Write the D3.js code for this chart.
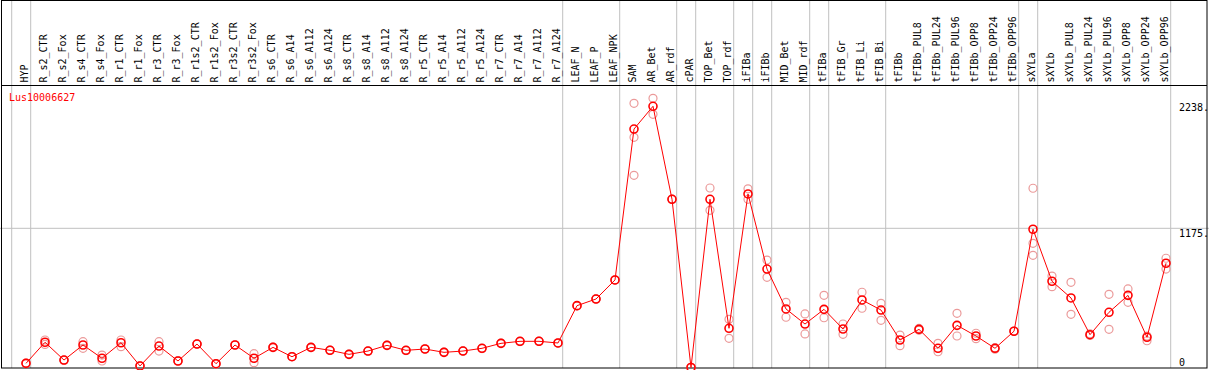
<!DOCTYPE html>
<html>
<head>
<meta charset="utf-8">
<script src="https://cdn.jsdelivr.net/npm/d3@7"></script>
<style>
  body { margin: 0; background: #fff; }
  svg { display: block; }
  text { font-family: "DejaVu Sans Mono", monospace; font-size: 10px; }
</style>
</head>
<body>
<svg id="chart"></svg>
<script>
// nomi dei campioni (colonne)
const samples = ["HYP", "R_s2_CTR", "R_s2_Fox", "R_s4_CTR", "R_s4_Fox", "R_r1_CTR", "R_r1_Fox",
  "R_r3_CTR", "R_r3_Fox", "R_r1s2_CTR", "R_r1s2_Fox", "R_r3s2_CTR", "R_r3s2_Fox",
  "R_s6_CTR", "R_s6_A14", "R_s6_A112", "R_s6_A124", "R_s8_CTR", "R_s8_A14", "R_s8_A112", "R_s8_A124",
  "R_r5_CTR", "R_r5_A14", "R_r5_A112", "R_r5_A124", "R_r7_CTR", "R_r7_A14", "R_r7_A112", "R_r7_A124",
  "LEAF_N", "LEAF_P", "LEAF_NPK", "SAM", "AR_Bet", "AR_rdf", "cPAR", "TOP_Bet", "TOP_rdf",
  "iFIBa", "iFIBb", "MID_Bet", "MID_rdf", "tFIBa", "tFIB_Gr", "tFIB_Li", "tFIB_Bi", "tFIBb",
  "tFIBb_PUL8", "tFIBb_PUL24", "tFIBb_PUL96", "tFIBb_OPP8", "tFIBb_OPP24", "tFIBb_OPP96",
  "sXYLa", "sXYLb", "sXYLb_PUL8", "sXYLb_PUL24", "sXYLb_PUL96", "sXYLb_OPP8", "sXYLb_OPP24", "sXYLb_OPP96"];

// valore medio per campione
const means = [35, 213, 63, 190, 78, 209, 13, 181, 55, 198, 32, 190, 78,
  170, 91, 170, 145, 111, 139, 187, 145,
  156, 128, 139, 162, 204, 221, 221, 207,
  522, 578, 739, 2013, 2205, 1420, 0, 1420, 331,
  1465, 831, 494, 367, 491, 325, 570, 485, 232,
  322, 162, 356, 266, 162, 306,
  1167, 728, 587, 277, 466, 609, 255, 880];

// repliche (cerchi chiari)
const replicates = [[35, 38], [232, 195], [63, 60], [218, 162], [105, 55], [232, 176], [13, 15],
  [218, 139], [55, 58], [198, 200], [32, 30], [190, 192], [117, 41],
  [170, 172], [91, 93], [170, 168], [145, 147], [111, 113], [139, 137], [187, 189], [145, 143],
  [156, 158], [128, 130], [139, 141], [162, 160], [204, 206], [221, 219], [221, 223], [207, 205],
  [522, 520], [578, 580], [739, 737], [2230, 1943, 1622], [2272, 2137], [1420, 1422], [0, 2],
  [1515, 1327], [407, 246],
  [1508, 1420], [907, 761], [550, 424], [452, 283], [609, 420], [367, 280], [635, 500], [542, 398], [274, 184],
  [330, 315], [204, 133], [457, 266], [289, 243], [167, 155], [306, 308],
  [1513, 1048, 947], [772, 682], [719, 449], [285, 270], [618, 322], [663, 550], [265, 226], [922, 831]];

// separatori verticali dopo questi indici (-1 = prima del primo)
const groupEnds = [-1, 0, 28, 31, 34, 35, 37, 38, 39, 41, 42, 45, 52, 53, 60];

const yTicks = [0, 1175, 2238];
const geneName = "Lus10006627";

const W = 1209, H = 370;
const headerH = 85, plotBottom = 368, rightEdge = 1207;

const svg = d3.select("#chart").attr("width", W).attr("height", H);

// scala x: una colonna ogni 19px
const x = d3.scaleLinear().domain([0, samples.length - 1]).range([26, 26 + 19 * (samples.length - 1)]);
const y = d3.scaleLinear().domain([0, 1175]).range([367.5, 228.3]);

// griglia orizzontale a 1175
svg.append("line")
  .attr("x1", 0).attr("x2", W)
  .attr("y1", y(1175)).attr("y2", y(1175))
  .attr("stroke", "#c0c0c0").attr("stroke-width", 1);

// separatori di gruppo
svg.selectAll(".sep")
  .data(groupEnds)
  .enter().append("line")
  .attr("class", "sep")
  .attr("x1", d => x(d) + 4.7).attr("x2", d => x(d) + 4.7)
  .attr("y1", 0).attr("y2", plotBottom)
  .attr("stroke", "#c0c0c0").attr("stroke-width", 1);

// cornice nera
svg.append("rect")
  .attr("x", 1.5).attr("y", 0.5)
  .attr("width", rightEdge - 1.5).attr("height", plotBottom - 0.5)
  .attr("fill", "none").attr("stroke", "#000").attr("stroke-width", 1);
svg.append("line")
  .attr("x1", 1).attr("x2", rightEdge)
  .attr("y1", headerH + 0.5).attr("y2", headerH + 0.5)
  .attr("stroke", "#000").attr("stroke-width", 1);

// etichette ruotate
svg.selectAll(".lab")
  .data(samples)
  .enter().append("text")
  .attr("class", "lab")
  .attr("transform", (d, i) => `translate(${x(i) + 2},82.5) rotate(-90)`)
  .attr("fill", "#000")
  .text(d => d);

// etichette asse y
svg.selectAll(".ytick")
  .data(yTicks)
  .enter().append("text")
  .attr("class", "ytick")
  .attr("x", 1179)
  .attr("y", d => d === 0 ? y(d) - 2 : y(d) + 8.5)
  .attr("fill", "#000")
  .text(d => d === 0 ? "0" : d + ".");

// titolo
svg.append("text")
  .attr("x", 9).attr("y", 101)
  .attr("fill", "#ff0000")
  .text(geneName);

// repliche
const reps = [];
replicates.forEach((arr, i) => arr.forEach(v => reps.push({ i, v })));
svg.selectAll(".rep")
  .data(reps)
  .enter().append("circle")
  .attr("class", "rep")
  .attr("cx", d => x(d.i)).attr("cy", d => y(d.v))
  .attr("r", 4)
  .attr("fill", "none").attr("stroke", "#eb9a9a").attr("stroke-width", 1.2);

// linea delle medie
const line = d3.line().x((d, i) => x(i)).y(d => y(d));
svg.append("path")
  .datum(means)
  .attr("d", line)
  .attr("fill", "none").attr("stroke", "#ff0000").attr("stroke-width", 1);

svg.selectAll(".mean")
  .data(means)
  .enter().append("circle")
  .attr("class", "mean")
  .attr("cx", (d, i) => x(i)).attr("cy", d => y(d))
  .attr("r", 4)
  .attr("fill", "none").attr("stroke", "#ff0000").attr("stroke-width", 1.6);
</script>
</body>
</html>
